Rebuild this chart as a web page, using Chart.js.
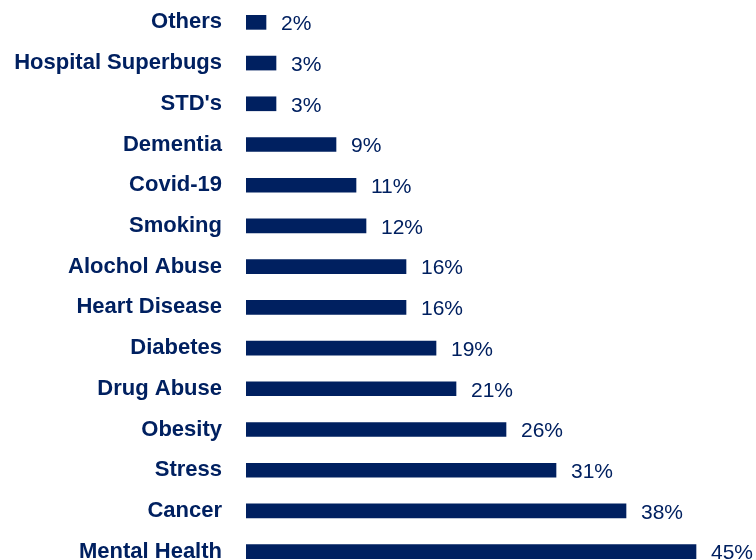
<!DOCTYPE html>
<html>
<head>
<meta charset="utf-8">
<script src="https://cdn.jsdelivr.net/npm/chart.js@4/dist/chart.umd.min.js"></script>
<style>
  html, body { margin: 0; padding: 0; background: #fff; overflow: hidden; }
  #wrap { position: absolute; left: 0; top: 0; width: 846px; height: 572px; }
</style>
</head>
<body>
<div id="wrap"><canvas id="chart" width="846" height="572"></canvas></div>
<script>
// share of respondents naming each health concern (%)
var categories = [
  "Others", "Hospital Superbugs", "STD's", "Dementia", "Covid-19", "Smoking",
  "Alochol Abuse", "Heart Disease", "Diabetes", "Drug Abuse", "Obesity",
  "Stress", "Cancer", "Mental Health"
];
var values = [2, 3, 3, 9, 11, 12, 16, 16, 19, 21, 26, 31, 38, 45];

var navy = "#002060";

// writes "NN%" just past the end of each bar
var valueLabels = {
  id: "valueLabels",
  afterDatasetsDraw: function (chart) {
    var ctx = chart.ctx;
    var meta = chart.getDatasetMeta(0);
    ctx.save();
    ctx.font = "21px 'Liberation Sans', Arial, sans-serif";
    ctx.fillStyle = navy;
    ctx.textAlign = "left";
    ctx.textBaseline = "middle";
    meta.data.forEach(function (bar, i) {
      ctx.fillText(values[i] + "%", bar.x + 15, bar.y + 2);
    });
    ctx.restore();
  }
};

new Chart(document.getElementById("chart"), {
  type: "bar",
  data: {
    labels: categories,
    datasets: [{
      data: values,
      backgroundColor: navy,
      borderWidth: 0,
      barThickness: 14
    }]
  },
  options: {
    indexAxis: "y",
    responsive: false,
    animation: false,
    devicePixelRatio: 1,
    layout: { padding: { top: 2, bottom: 0, left: 0, right: 0 } },
    plugins: {
      legend: { display: false },
      tooltip: { enabled: false }
    },
    scales: {
      x: {
        display: false,
        min: 0,
        max: 60
      },
      y: {
        grid: { display: false, drawTicks: false },
        border: { display: false },
        ticks: {
          color: navy,
          padding: 24,
          font: { family: "'Liberation Sans', Arial, sans-serif", size: 22, weight: "bold" }
        },
        afterFit: function (scale) {
          // fixed label column, and no extra space above/below the bands
          scale.width = 246;
          scale.paddingTop = 0;
          scale.paddingBottom = 0;
        }
      }
    }
  },
  plugins: [valueLabels]
});
</script>
</body>
</html>
